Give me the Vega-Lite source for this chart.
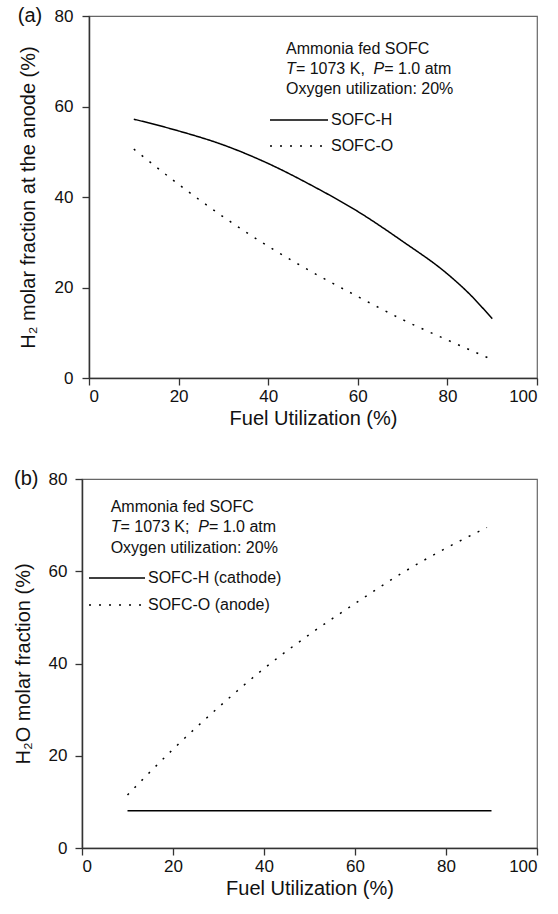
{
  "$schema": "https://vega.github.io/schema/vega-lite/v6.json",
  "padding": {"left": 0, "top": 5, "right": 5, "bottom": 5},
  "background": "white",
  "config": {
    "font": "Liberation Sans",
    "view": {"stroke": "#666", "strokeWidth": 1.2},
    "axis": {"grid": false, "domainColor": "#333", "domainWidth": 1.5, "tickColor": "#333", "tickWidth": 1.3, "tickSize": 7, "labelColor": "#111", "labelFontSize": 17, "titleColor": "#111", "titleFontSize": 20, "titleFontWeight": "normal", "labelPadding": 8},
    "axisX": {"labelPadding": 3, "titlePadding": 4},
    "legend": {"labelFontSize": 16, "labelColor": "#111", "symbolType": "stroke", "symbolStrokeColor": "black", "symbolStrokeWidth": 1.5, "clipHeight": 16, "labelOffset": 2, "padding": 0}
  },
  "datasets": {
    "a": [
      {"u": 10, "v": 57.2, "s": "SOFC-H"},
      {"u": 20, "v": 54.6, "s": "SOFC-H"},
      {"u": 30, "v": 51.5, "s": "SOFC-H"},
      {"u": 40, "v": 47.4, "s": "SOFC-H"},
      {"u": 50, "v": 42.4, "s": "SOFC-H"},
      {"u": 60, "v": 36.8, "s": "SOFC-H"},
      {"u": 70, "v": 30.2, "s": "SOFC-H"},
      {"u": 80, "v": 23.0, "s": "SOFC-H"},
      {"u": 85, "v": 18.5, "s": "SOFC-H"},
      {"u": 90, "v": 13.1, "s": "SOFC-H"},
      {"u": 10, "v": 50.6, "s": "SOFC-O"},
      {"u": 20, "v": 42.8, "s": "SOFC-O"},
      {"u": 30, "v": 35.6, "s": "SOFC-O"},
      {"u": 40, "v": 29.1, "s": "SOFC-O"},
      {"u": 50, "v": 23.3, "s": "SOFC-O"},
      {"u": 60, "v": 18.0, "s": "SOFC-O"},
      {"u": 70, "v": 12.9, "s": "SOFC-O"},
      {"u": 80, "v": 8.4, "s": "SOFC-O"},
      {"u": 89, "v": 4.5, "s": "SOFC-O"}
    ],
    "b": [
      {"u": 10, "v": 8.1, "s": "SOFC-H (cathode)"},
      {"u": 90, "v": 8.1, "s": "SOFC-H (cathode)"},
      {"u": 10, "v": 11.5, "s": "SOFC-O (anode)"},
      {"u": 20, "v": 21.4, "s": "SOFC-O (anode)"},
      {"u": 30, "v": 30.5, "s": "SOFC-O (anode)"},
      {"u": 40, "v": 38.9, "s": "SOFC-O (anode)"},
      {"u": 50, "v": 46.3, "s": "SOFC-O (anode)"},
      {"u": 60, "v": 53.0, "s": "SOFC-O (anode)"},
      {"u": 70, "v": 59.4, "s": "SOFC-O (anode)"},
      {"u": 80, "v": 65.0, "s": "SOFC-O (anode)"},
      {"u": 89, "v": 69.5, "s": "SOFC-O (anode)"}
    ]
  },
  "columns": 1,
  "align": "none",
  "spacing": 39,
  "resolve": {"scale": {"strokeDash": "independent"}, "legend": {"strokeDash": "independent"}},
  "concat": [
    {
      "spacing": 8,
      "resolve": {"scale": {"strokeDash": "independent"}, "legend": {"strokeDash": "independent"}},
      "hconcat": [
        {"width": 9, "height": 1, "view": {"stroke": null}, "data": {"values": []}, "mark": "point"},
        {
          "width": 448,
          "height": 362,
          "layer": [
            {
              "data": {"name": "a"},
              "mark": {"type": "line", "color": "black", "strokeWidth": 1.5, "interpolate": "monotone"},
              "encoding": {
                "x": {"field": "u", "type": "quantitative", "scale": {"domain": [0, 100], "nice": false}, "axis": {"values": [0, 20, 40, 60, 80, 100], "title": "Fuel Utilization (%)"}},
                "y": {"field": "v", "type": "quantitative", "scale": {"domain": [0, 80], "nice": false}, "axis": {"values": [0, 20, 40, 60, 80], "title": "H₂ molar fraction at the anode (%)", "titlePadding": 16, "labelPadding": 9}},
                "strokeDash": {"field": "s", "type": "nominal", "scale": {"domain": ["SOFC-H", "SOFC-O"], "range": [[1, 0], [2, 8]]}, "legend": {"title": null, "orient": "none", "legendX": 180, "legendY": 96, "symbolSize": 3364, "rowPadding": 10}}
              }
            },
            {"data": {"values": [{}]}, "mark": {"type": "text", "align": "center", "baseline": "middle", "fontSize": 20, "color": "#111"}, "encoding": {"x": {"datum": -13.17, "type": "quantitative"}, "y": {"datum": 80, "type": "quantitative"}, "text": {"value": "(a)"}}},
            {"data": {"values": [{}]}, "mark": {"type": "text", "align": "left", "baseline": "middle", "fontSize": 16, "color": "#111"}, "encoding": {"x": {"datum": 44.0, "type": "quantitative"}, "y": {"datum": 72.6, "type": "quantitative"}, "text": {"value": "Ammonia fed SOFC"}}},
            {"data": {"values": [{}]}, "mark": {"type": "text", "align": "left", "baseline": "middle", "fontSize": 16, "fontStyle": "italic", "color": "#111"}, "encoding": {"x": {"datum": 44.0, "type": "quantitative"}, "y": {"datum": 68.2, "type": "quantitative"}, "text": {"value": "T"}}},
            {"data": {"values": [{}]}, "mark": {"type": "text", "align": "left", "baseline": "middle", "fontSize": 16, "color": "#111"}, "encoding": {"x": {"datum": 46.18, "type": "quantitative"}, "y": {"datum": 68.2, "type": "quantitative"}, "text": {"value": " = 1073 K, "}}},
            {"data": {"values": [{}]}, "mark": {"type": "text", "align": "left", "baseline": "middle", "fontSize": 16, "fontStyle": "italic", "color": "#111"}, "encoding": {"x": {"datum": 63.5, "type": "quantitative"}, "y": {"datum": 68.2, "type": "quantitative"}, "text": {"value": "P"}}},
            {"data": {"values": [{}]}, "mark": {"type": "text", "align": "left", "baseline": "middle", "fontSize": 16, "color": "#111"}, "encoding": {"x": {"datum": 65.9, "type": "quantitative"}, "y": {"datum": 68.2, "type": "quantitative"}, "text": {"value": " = 1.0 atm"}}},
            {"data": {"values": [{}]}, "mark": {"type": "text", "align": "left", "baseline": "middle", "fontSize": 16, "color": "#111"}, "encoding": {"x": {"datum": 44.0, "type": "quantitative"}, "y": {"datum": 63.8, "type": "quantitative"}, "text": {"value": "Oxygen utilization: 20%"}}}
          ]
        }
      ]
    },
    {
      "spacing": 8,
      "resolve": {"scale": {"strokeDash": "independent"}, "legend": {"strokeDash": "independent"}},
      "hconcat": [
        {"width": 4, "height": 1, "view": {"stroke": null}, "data": {"values": []}, "mark": "point"},
        {
          "width": 455,
          "height": 369,
          "layer": [
            {
              "data": {"name": "b"},
              "mark": {"type": "line", "color": "black", "strokeWidth": 1.5, "interpolate": "monotone"},
              "encoding": {
                "x": {"field": "u", "type": "quantitative", "scale": {"domain": [0, 100], "nice": false}, "axis": {"values": [0, 20, 40, 60, 80, 100], "title": "Fuel Utilization (%)"}},
                "y": {"field": "v", "type": "quantitative", "scale": {"domain": [0, 80], "nice": false}, "axis": {"values": [0, 20, 40, 60, 80], "title": "H₂O molar fraction (%)", "titlePadding": 15, "labelPadding": 8}},
                "strokeDash": {"field": "s", "type": "nominal", "scale": {"domain": ["SOFC-H (cathode)", "SOFC-O (anode)"], "range": [[1, 0], [2, 8]]}, "legend": {"title": null, "orient": "none", "legendX": 6, "legendY": 91, "symbolSize": 3136, "rowPadding": 11}}
              }
            },
            {"data": {"values": [{}]}, "mark": {"type": "text", "align": "center", "baseline": "middle", "fontSize": 20, "color": "#111"}, "encoding": {"x": {"datum": -12.26, "type": "quantitative"}, "y": {"datum": 80, "type": "quantitative"}, "text": {"value": "(b)"}}},
            {"data": {"values": [{}]}, "mark": {"type": "text", "align": "left", "baseline": "middle", "fontSize": 16, "color": "#111"}, "encoding": {"x": {"datum": 6.3, "type": "quantitative"}, "y": {"datum": 73.9, "type": "quantitative"}, "text": {"value": "Ammonia fed SOFC"}}},
            {"data": {"values": [{}]}, "mark": {"type": "text", "align": "left", "baseline": "middle", "fontSize": 16, "fontStyle": "italic", "color": "#111"}, "encoding": {"x": {"datum": 6.3, "type": "quantitative"}, "y": {"datum": 69.5, "type": "quantitative"}, "text": {"value": "T"}}},
            {"data": {"values": [{}]}, "mark": {"type": "text", "align": "left", "baseline": "middle", "fontSize": 16, "color": "#111"}, "encoding": {"x": {"datum": 8.46, "type": "quantitative"}, "y": {"datum": 69.5, "type": "quantitative"}, "text": {"value": " = 1073 K; "}}},
            {"data": {"values": [{}]}, "mark": {"type": "text", "align": "left", "baseline": "middle", "fontSize": 16, "fontStyle": "italic", "color": "#111"}, "encoding": {"x": {"datum": 25.56, "type": "quantitative"}, "y": {"datum": 69.5, "type": "quantitative"}, "text": {"value": "P"}}},
            {"data": {"values": [{}]}, "mark": {"type": "text", "align": "left", "baseline": "middle", "fontSize": 16, "color": "#111"}, "encoding": {"x": {"datum": 27.91, "type": "quantitative"}, "y": {"datum": 69.5, "type": "quantitative"}, "text": {"value": " = 1.0 atm"}}},
            {"data": {"values": [{}]}, "mark": {"type": "text", "align": "left", "baseline": "middle", "fontSize": 16, "color": "#111"}, "encoding": {"x": {"datum": 6.3, "type": "quantitative"}, "y": {"datum": 65.0, "type": "quantitative"}, "text": {"value": "Oxygen utilization: 20%"}}}
          ]
        }
      ]
    }
  ]
}
